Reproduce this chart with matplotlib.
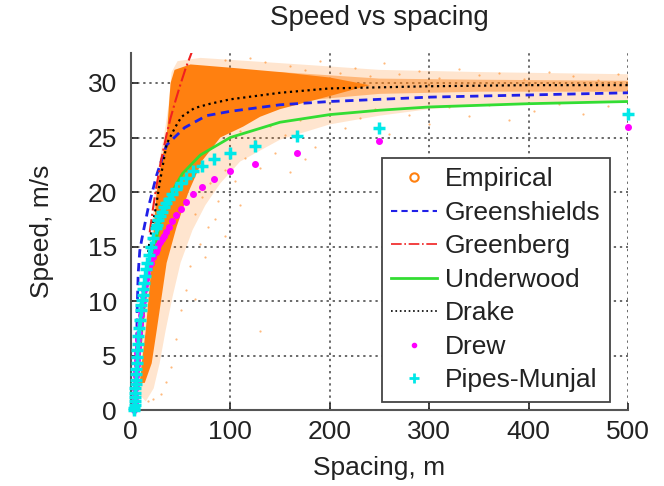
import numpy as np
import matplotlib
matplotlib.use("Agg")
from matplotlib import pyplot as plt
from matplotlib.lines import Line2D

plt.rcParams['font.family'] = ['Liberation Sans', 'DejaVu Sans']

# ---- model curves (spacing m, speed m/s) ----
gs_s = [5.0, 5.5, 6.0, 6.5, 7.4, 9.0, 10.7, 12.4, 17.4, 25.8, 35.9, 54, 76, 100, 150, 200, 300, 400, 500]
gs_v = [0.0, 3.5, 6.8, 9.5, 12.5, 14.6, 15.5, 16.3, 18.5, 21.5, 24.3, 25.9, 27.0, 27.4, 28.0, 28.3, 28.7, 28.9, 29.1]

gb_s = [19, 22, 25, 30, 36, 40, 45, 50, 55, 61, 64]
gb_v = [16.3, 18.3, 20.1, 22.7, 25.3, 26.8, 28.4, 29.9, 31.3, 32.75, 33.4]

uw_s = [4, 5, 7, 10, 15, 20, 30, 40, 52, 70, 100, 150, 200, 250, 300, 400, 500]
uw_v = [0.6, 1.3, 3.6, 6.2, 10.9, 13.5, 17.4, 19.8, 21.7, 23.4, 25.0, 26.4, 27.1, 27.5, 27.8, 28.1, 28.3]

dk_s = [17.5, 19, 22, 25, 29, 36, 45, 51, 64, 80, 100, 150, 200, 300, 400, 500]
dk_v = [14.5, 15.6, 17.0, 18.5, 20.8, 24.4, 26.0, 26.9, 27.7, 28.1, 28.5, 29.1, 29.5, 29.7, 29.8, 29.8]

# ---- point models, evaluated at densities (veh/km) ----
density = [2, 4, 6, 8, 10, 12, 14, 16, 18, 20, 22, 24, 26, 28, 30, 32, 34, 36, 38, 40,
           45, 50, 55, 60, 65, 70, 75, 80, 85, 90, 95, 100,
           110, 120, 130, 140, 150, 160, 170, 180, 190, 200, 210, 220, 230, 240, 250, 260, 270, 280]
pipes_v = [27.2, 25.9, 25.1, 24.2, 23.6, 23.0, 22.4, 21.9, 21.3, 20.8, 20.3, 19.8, 19.4, 19.0, 18.6,
           18.2, 17.8, 17.4, 17.0, 16.7,
           15.8, 15.0, 14.2, 13.5, 12.9, 12.3, 11.7, 11.1, 10.6, 10.1, 9.6, 9.2,
           8.3, 7.5, 6.8, 6.1, 5.5, 4.9, 4.3, 3.8, 3.3, 2.8, 2.4, 2.0, 1.6, 1.2, 0.8, 0.5, 0.2, 0.0]
drew_v = [26.0, 24.7, 23.6, 22.6, 21.9, 21.2, 20.5, 19.8, 19.1, 18.4, 17.9, 17.3, 16.8, 16.3, 16.0,
          15.7, 15.4, 15.1, 14.8, 14.5,
          14.0, 13.5, 13.0, 12.5, 12.0, 11.5, 11.0, 10.5, 10.0, 9.6, 9.1, 8.7,
          7.9, 7.1, 6.4, 5.8, 5.2, 4.6, 4.1, 3.6, 3.1, 2.7, 2.3, 1.9, 1.5, 1.1, 0.7, 0.4, 0.1, 0.0]

# ---- empirical cloud: dense core, thinner free-flow band, light halo, stray points ----
core_s = [9, 11, 15, 18, 21, 23, 26, 31, 36, 38, 40, 44, 60, 100, 150, 200, 240,
          200, 150, 130, 113, 90, 72, 58, 46, 36, 31, 26, 21, 14]
core_v = [2.5, 4.3, 7.3, 10.4, 13.5, 16.5, 20.0, 23.0, 25.0, 27.5, 30.0, 31.2, 31.7, 31.4, 31.0, 30.5, 29.8,
          28.8, 27.6, 26.9, 26.0, 25.0, 22.9, 20.0, 16.8, 13.5, 10.4, 7.3, 4.3, 2.5]

band_s = [150, 250, 350, 500, 500, 350, 250, 150]
band_v = [31.0, 30.4, 30.3, 30.2, 29.2, 29.2, 29.0, 28.2]

halo_s = [8, 10, 13, 16, 19, 21, 24, 29, 34, 38, 41, 47, 70, 120, 170, 250, 350, 500,
          500, 400, 300, 250, 200, 150, 110, 90, 75, 62, 50, 42, 35, 29, 23, 15]
halo_v = [1.5, 4.0, 7.3, 10.4, 13.5, 16.5, 20.0, 23.0, 25.5, 28.0, 31.0, 32.0, 32.3, 32.0, 31.7, 31.2, 31.0, 30.8,
          28.4, 28.2, 27.6, 27.0, 26.2, 24.8, 22.8, 20.8, 18.8, 16.5, 13.5, 10.4, 7.3, 4.3, 2.0, 0.8]

stray_s = [160, 175, 190, 210, 225, 240, 255, 270, 290, 310, 330, 350, 370, 395, 420, 445, 470, 490, 120, 135, 95,
           110, 125, 140, 155, 170, 185, 200, 215, 230, 245, 260, 280, 300, 320, 340, 360, 380, 405, 430, 455, 480,
           65, 72, 80, 88, 95, 105, 115, 130, 145, 160, 175, 78, 70, 85, 60, 55, 50, 45, 40, 35, 30, 22, 17,
           65, 75, 95, 110, 130]
stray_v = [31.6, 31.2, 32.0, 30.9, 31.4, 30.6, 31.8, 30.8, 31.1, 30.5, 31.3, 30.7, 30.9, 30.4, 31.0, 30.6, 30.3, 30.8, 32.3, 31.9, 32.1,
           25.6, 24.8, 26.1, 25.2, 26.6, 24.1, 27.2, 25.9, 26.8, 27.6, 25.3, 27.1, 26.2, 27.8, 27.0, 28.0, 26.6, 27.4, 28.1, 27.2, 27.9,
           18.0, 19.5, 20.8, 19.2, 22.0, 21.0, 23.1, 22.2, 23.6, 21.8, 23.0, 16.8, 15.2, 17.5, 13.2, 11.0, 9.2, 6.5, 4.0, 2.6, 1.5, 1.0, 0.8,
           10.2, 14.0, 16.0, 18.8, 7.3]

labels = ['Empirical', 'Greenshields', 'Greenberg', 'Underwood', 'Drake', 'Drew', 'Pipes-Munjal']

orange = '#ff8010'
fig = plt.figure(figsize=(6.64, 4.86), dpi=100)
ax = fig.add_axes([0.197, 0.156, 0.749, 0.735])

spacing = 1000.0 / np.array(density)

ax.fill(halo_s, halo_v, color=orange, alpha=0.2, lw=0, zorder=1)
ax.fill(band_s, band_v, color=orange, alpha=0.45, lw=0, zorder=1.5)
ax.fill(core_s, core_v, color=orange, lw=0, zorder=2)
ax.plot(stray_s, stray_v, 'o', color=orange, alpha=0.55, ms=1.6, mew=0, zorder=2)

ax.plot(gs_s, gs_v, '--', color='#2020e8', lw=2, dashes=(3, 2), zorder=4)
ax.plot(gb_s, gb_v, '-.', color='#f02020', lw=1.5, zorder=4)
ax.plot(uw_s, uw_v, '-', color='#33dd33', lw=2, zorder=4)
ax.plot(dk_s, dk_v, ':', color='k', lw=1.6, zorder=5)
ax.plot(spacing, drew_v, '.', color='#ff00ff', ms=8, zorder=5, clip_on=False)
ax.plot(spacing, pipes_v, '+', color='#00e8e8', ms=9, mew=2.5, zorder=6, clip_on=False)

ax.set_xlim(0, 500)
ax.set_ylim(0, 32.75)
ax.set_xticks([0, 100, 200, 300, 400, 500])
ax.set_yticks([0, 5, 10, 15, 20, 25, 30])
ax.grid(True, ls=(0, (1.5, 2.5)), color='#404040', lw=1.1)
ax.set_axisbelow(True)
for side in ['top', 'right']:
    ax.spines[side].set_visible(False)
for side in ['left', 'bottom']:
    ax.spines[side].set_color('#555555')
    ax.spines[side].set_linewidth(1.5)
ax.tick_params(direction='in', labelsize=19, colors='#222222', length=5, width=1.2)
ax.tick_params(axis='y', pad=10)
ax.tick_params(axis='x', pad=7)

ax.set_title('Speed vs spacing', fontsize=20, color='#222222', pad=20)
ax.set_xlabel('Spacing, m', fontsize=19, color='#222222', labelpad=9)
ax.set_ylabel('Speed, m/s', fontsize=19, color='#222222', labelpad=24)

handles = [
    Line2D([], [], ls='none', marker='o', mfc='none', mec=orange, ms=6, mew=1.5),
    Line2D([], [], ls='--', color='#2020e8', lw=1.5, dashes=(3, 2)),
    Line2D([], [], ls='-.', color='#f02020', lw=1.2),
    Line2D([], [], ls='-', color='#33dd33', lw=2),
    Line2D([], [], ls=':', color='k', lw=1.2),
    Line2D([], [], ls='none', marker='.', color='#ff00ff', ms=6),
    Line2D([], [], ls='none', marker='+', color='#00e8e8', ms=7, mew=2),
]
leg = ax.legend(handles, labels, loc='lower right', bbox_to_anchor=(0.963, 0.024),
                fontsize=19, frameon=True, fancybox=False, framealpha=1,
                edgecolor='#444444', handlelength=1.75, handletextpad=0.3,
                labelspacing=0.36, borderpad=0.35, borderaxespad=0)
leg.get_frame().set_linewidth(1.3)
leg.set_zorder(10)
for t in leg.get_texts():
    t.set_color('#222222')

fig.savefig('out.png', dpi=100)
